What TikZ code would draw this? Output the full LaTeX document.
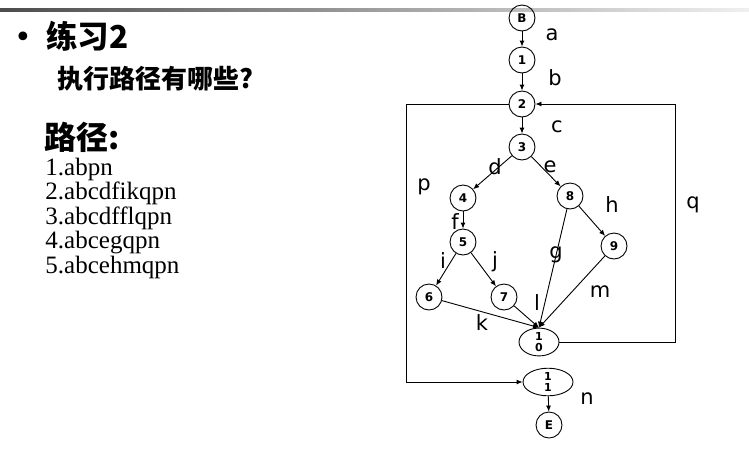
\documentclass[tikz,border=0pt]{standalone}
\usepackage{fontspec}
\setmainfont{Liberation Serif}
\newfontfamily\cjk{Noto Sans CJK SC}
\newfontfamily\labelfont{DejaVu Sans}
\usetikzlibrary{arrows.meta, shapes.geometric}

\begin{document}
\begin{tikzpicture}[x=1pt, y=-1pt, line width=0.9pt,
    vertex/.style={circle, draw=black, minimum size=26pt, inner sep=0pt,
        font=\labelfont\bfseries\fontsize{12}{12}\selectfont},
    oval/.style={ellipse, draw=black, inner sep=0pt, align=center,
        font=\labelfont\bfseries\fontsize{11}{11.5}\selectfont},
    edge/.style={-{Latex[length=6pt, width=5pt]}},
    tag/.style={inner sep=0pt, font=\labelfont\fontsize{21}{21}\selectfont},
    heading/.style={inner sep=0pt, anchor=west, font=\cjk\bfseries},
    pathline/.style={inner sep=0pt, anchor=base west,
        font=\fontsize{25}{25}\selectfont}
]
    \useasboundingbox (0,0) rectangle (749,451);
    \shade[left color=black!70, right color=black!6] (0,8) rectangle (749,11);

    % text on the left
    \node[inner sep=0pt, font=\labelfont\fontsize{30}{30}\selectfont] (dot) at (23,40) {•};
    \node[heading, font=\cjk\bfseries\fontsize{31.5}{31}\selectfont] (title) at (46,36) {练习2};
    \node[heading, font=\cjk\bfseries\fontsize{26}{26}\selectfont] (ask) at (57,79) {执行路径有哪些?};
    \node[heading, font=\cjk\bfseries\fontsize{32}{32}\selectfont] (paths) at (44,137) {路径:};
    \foreach \t [count=\i] in {abpn, abcdfikqpn, abcdfflqpn, abcegqpn, abcehmqpn}
        \node[pathline] (path\i) at (45,150.5+24.5*\i) {\i.\t};

    % flow graph
    \node[vertex] (B) at (522,18) {B};
    \node[vertex] (n1) at (522,60) {1};
    \node[vertex] (n2) at (522,104) {2};
    \node[vertex] (n3) at (522,147) {3};
    \node[vertex] (n4) at (463,198) {4};
    \node[vertex] (n8) at (570,196) {8};
    \node[vertex] (n5) at (463,242) {5};
    \node[vertex] (n9) at (614,246) {9};
    \node[vertex] (n6) at (429,297) {6};
    \node[vertex] (n7) at (504,297) {7};
    \node[oval, minimum width=40pt, minimum height=27pt] (n10) at (539,342) {1\\0};
    \node[oval, minimum width=50pt, minimum height=22pt] (n11) at (548,382) {1\\1};
    \node[vertex] (E) at (549,425) {E};
    \coordinate (pleft) at (406,104);
    \coordinate (qright) at (675,342);

    \draw[edge] (B) -- (n1);
    \draw[edge] (n1) -- (n2);
    \draw[edge] (n2) -- (n3);
    \draw[edge] (n3) -- (n4);
    \draw[edge] (n3) -- (n8);
    \draw[edge] (n4) -- (n5);
    \draw[edge] (n5) -- (n6);
    \draw[edge] (n5) -- (n7);
    \draw[edge] (n8) -- (n9);
    \draw[edge] (n8) -- (n10.north);
    \draw[edge] (n9) -- (n10.north);
    \draw[edge] (n6) -- (n10.north);
    \draw[edge] (n7) -- (n10.north);
    \draw[edge] (n11) -- (E);
    \draw[edge] (n2.west) -- (pleft) |- (n11.west);
    \draw[edge] (n10.east) -- (qright) |- (n2.east);

    % edge names
    \node[tag] (ta) at (552,35) {a};
    \node[tag] (tb) at (555,78) {b};
    \node[tag] (tc) at (557,127) {c};
    \node[tag] (td) at (495,167) {d};
    \node[tag] (te) at (550,167) {e};
    \node[tag] (tp) at (424,187) {p};
    \node[tag] (th) at (612,205) {h};
    \node[tag] (tq) at (693,205) {q};
    \node[tag] (tf) at (455,222) {f};
    \node[tag] (tg) at (556,255) {g};
    \node[tag] (ti) at (443,261) {i};
    \node[tag] (tj) at (495,262) {j};
    \node[tag] (tm) at (600,292) {m};
    \node[tag] (tl) at (537,303) {l};
    \node[tag] (tk) at (482,323) {k};
    \node[tag] (tn) at (587,399) {n};
\end{tikzpicture}
\end{document}
